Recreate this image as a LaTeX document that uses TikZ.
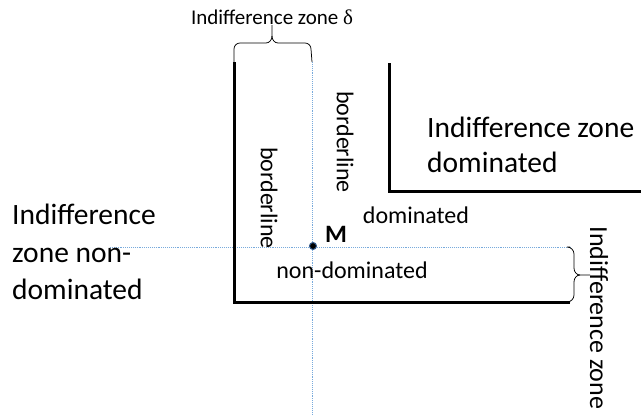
\documentclass[tikz,border=0pt]{standalone}
\usepackage{fontspec}
\setmainfont{Carlito}
\newfontfamily\greekfont{Liberation Serif}
\definecolor{guideblue}{RGB}{120,170,220}
\definecolor{dotblue}{RGB}{50,90,140}
\begin{document}
\begin{tikzpicture}[x=1pt,y=-1pt,
  axisline/.style={line width=3pt,black},
  guide/.style={draw=guideblue,line width=0.9pt,densely dotted},
  bracepath/.style={line width=0.75pt,black},
  smalltext/.style={inner sep=0pt,font=\fontsize{24}{28}\selectfont},
  bigtext/.style={inner sep=0pt,font=\fontsize{29.5}{37.5}\selectfont,align=left},
  toptext/.style={inner sep=0pt,font=\fontsize{21}{25}\selectfont},
  sidetext/.style={inner sep=0pt,font=\fontsize{26}{30}\selectfont,rotate=-90}]
\useasboundingbox (0,0) rectangle (641,416);

% corner points of the two boundary lines
\coordinate (ntop) at (234,62);
\coordinate (ncorner) at (234,302);
\coordinate (nend) at (570,302);
\coordinate (dtop) at (389,63);
\coordinate (dcorner) at (389,191);
\coordinate (dend) at (641,191);

% dotted guides through M
\coordinate (hstart) at (110,247);
\coordinate (hend) at (570,247);
\coordinate (vstart) at (312,62);
\coordinate (vend) at (312,415);
\draw[guide] (hstart) -- (hend);
\draw[guide] (vstart) -- (vend);

% boundary lines
\draw[axisline] (ntop) -- (ncorner) -- (nend);
\draw[axisline] (dtop) -- (dcorner) -- (dend);

% point M
\node[circle,fill=black,draw=dotblue,line width=1pt,minimum size=7pt,inner sep=0pt] (m) at (313,246) {};
\node[inner sep=0pt,font=\fontsize{25}{29}\selectfont\bfseries] (mlabel) at (336,234) {M};

% brace over the indifference zone delta
\draw[bracepath] (ntop) -- (234,49) to[out=90,in=180] (240,43) -- (266,43)
  to[out=0,in=-90] (272,36) -- (272,25);
\draw[bracepath] (vstart) -- (311,49) to[out=90,in=0] (305,43) -- (278,43)
  to[out=180,in=-90] (272,36);

% brace at the right end of the horizontal guide
\draw[bracepath] (hend) -- (567,247) to[out=0,in=90] (574,254) -- (574,268)
  to[out=-90,in=180] (580,275) -- (590,275);
\draw[bracepath] (nend) -- (567,302) to[out=0,in=-90] (574,295) -- (574,282)
  to[out=90,in=180] (580,275);

% labels
\node[toptext] (zonedelta) at (272,17) {Indifference zone {\greekfont δ}};
\node[bigtext,anchor=north west] (nondomzone) at (12,204) {Indifference\\zone non-\\dominated};
\node[bigtext,anchor=north west,font=\fontsize{29.5}{35}\selectfont] (domzone) at (427,117) {Indifference zone\\dominated};
\node[smalltext,rotate=-90] (border1) at (269,198) {borderline};
\node[smalltext,rotate=-90] (border2) at (345,142) {borderline};
\node[smalltext] (dom) at (416,215) {dominated};
\node[smalltext] (nondom) at (352,270) {non-dominated};
\node[sidetext] (sidezone) at (599,318) {Indifference zone};
\end{tikzpicture}
\end{document}
